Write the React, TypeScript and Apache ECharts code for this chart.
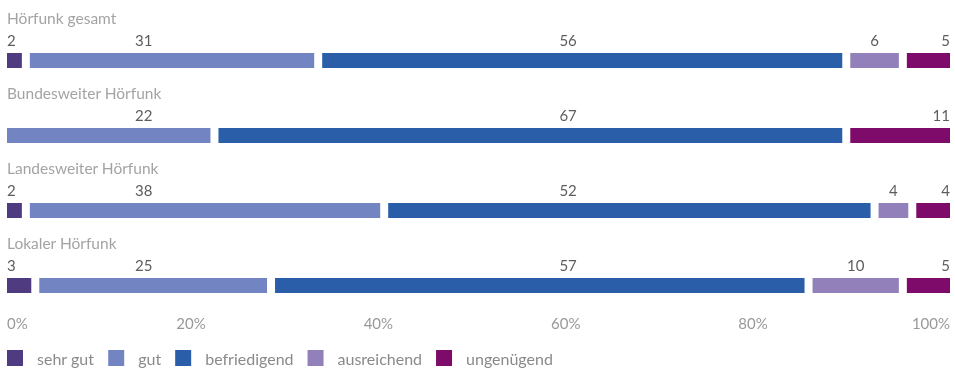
import React, { useEffect, useRef } from 'react';
import * as echarts from 'echarts';

// ---- data ----
const rows = ['Hörfunk gesamt', 'Bundesweiter Hörfunk', 'Landesweiter Hörfunk', 'Lokaler Hörfunk'];
const grades = ['sehr gut', 'gut', 'befriedigend', 'ausreichend', 'ungenügend'];
const sehrGut = [2, 0, 2, 3];
const gut = [31, 22, 38, 25];
const befriedigend = [56, 67, 52, 57];
const ausreichend = [6, 0, 4, 10];
const ungenuegend = [5, 11, 4, 5];
const midTicks = [20, 40, 60, 80];

// ---- styles / layout ----
const colors = ['#4e3b80', '#7384c3', '#2a5ea9', '#9280ba', '#7e0a69'];
const FONT = 'Lato, "Open Sans", sans-serif';
const GAP = 8;
const BAR_H = 15;
const GUT_LABEL_X = 14.5;
const BEFR_LABEL_X = 59.5;

const columns = [sehrGut, gut, befriedigend, ausreichend, ungenuegend];

export default function App() {
  const ref = useRef<HTMLDivElement>(null);

  useEffect(() => {
    if (!ref.current) return;
    const chart = echarts.init(ref.current, undefined, { renderer: 'svg' });

    // cumulative starts per row
    const starts: number[][] = columns.map(() => rows.map(() => 0));
    rows.forEach((_, r) => {
      let acc = 0;
      columns.forEach((col, c) => {
        starts[c][r] = acc;
        acc += col[r];
      });
    });

    const barSeries = columns.map((col, c) => ({
      name: grades[c],
      type: 'custom',
      xAxisIndex: 0,
      yAxisIndex: 0,
      itemStyle: { color: colors[c] },
      encode: { x: [0, 1], y: 2 },
      data: col
        .map((v, r) => ({ v, r }))
        .filter((d) => d.v > 0)
        .map((d) => [starts[c][d.r], starts[c][d.r] + d.v, d.r]),
      renderItem: (params: any, api: any) => {
        const s = api.value(0);
        const e = api.value(1);
        const row = api.value(2);
        const p0 = api.coord([s, row]);
        const p1 = api.coord([e, row]);
        const l = p0[0] + (s > 0 ? GAP / 2 : 0);
        const rr = p1[0] - (e < 100 ? GAP / 2 : 0);
        return {
          type: 'rect',
          shape: { x: l, y: p0[1] - BAR_H / 2, width: rr - l, height: BAR_H },
          style: { fill: colors[c] },
        };
      },
    }));

    const labelAlign = ['left', 'center', 'center', 'center', 'right'];
    const labelSeries = columns.map((col, c) => ({
      name: 'label-' + grades[c],
      type: 'scatter',
      xAxisIndex: 0,
      yAxisIndex: 0,
      symbolSize: 1,
      silent: true,
      itemStyle: { color: 'transparent' },
      data: col
        .map((v, r) => {
          let x = 0;
          if (c === 0) x = 0;
          else if (c === 1) x = GUT_LABEL_X;
          else if (c === 2) x = BEFR_LABEL_X;
          else if (c === 3) x = starts[c][r] + v / 2;
          else x = 100;
          return { value: [x, r], v };
        })
        .filter((d) => d.v > 0),
      label: {
        show: true,
        position: 'inside',
        offset: [0, -20.5],
        align: labelAlign[c],
        verticalAlign: 'middle',
        color: '#333333',
        fontSize: 15,
        fontFamily: FONT,
        formatter: (p: any) => String(p.data.v),
      },
    }));

    const titleSeries = {
      name: 'row-titles',
      type: 'scatter',
      xAxisIndex: 0,
      yAxisIndex: 0,
      symbolSize: 1,
      silent: true,
      itemStyle: { color: 'transparent' },
      data: rows.map((name, r) => ({ value: [0, r], name })),
      label: {
        show: true,
        position: 'inside',
        offset: [0, -43],
        align: 'left',
        verticalAlign: 'middle',
        color: '#8c8c8c',
        fontSize: 15.5,
        fontFamily: FONT,
        formatter: (p: any) => p.data.name,
      },
    };

    const axisLabelStyle = {
      color: '#999999',
      fontSize: 15,
      fontFamily: FONT,
      margin: 0,
      verticalAlign: 'middle',
      formatter: '{value}%',
    };

    chart.setOption({
      animation: false,
      textStyle: { fontFamily: FONT },
      grid: { left: 7, right: 5, top: 23, height: 300 },
      xAxis: [
        {
          type: 'value',
          min: 0,
          max: 100,
          interval: 100,
          position: 'bottom',
          axisLine: { show: false },
          axisTick: { show: false },
          splitLine: { show: false },
          axisLabel: { ...axisLabelStyle, alignMinLabel: 'left', alignMaxLabel: 'right' },
        },
        {
          type: 'value',
          min: 0.35,
          max: 101.03,
          position: 'bottom',
          axisLine: { show: false },
          axisTick: { show: false },
          splitLine: { show: false },
          axisLabel: { ...axisLabelStyle, customValues: midTicks },
        },
      ],
      yAxis: {
        type: 'category',
        data: rows,
        inverse: true,
        axisLine: { show: false },
        axisTick: { show: false },
        splitLine: { show: false },
        axisLabel: { show: false },
      },
      legend: {
        data: grades,
        left: 7,
        top: 350,
        padding: 0,
        icon: 'rect',
        itemWidth: 16,
        itemHeight: 16,
        itemGap: 14,
        selectedMode: false,
        textStyle: { color: '#8a8a8a', fontSize: 16, fontFamily: FONT, padding: [0, 0, 0, 9] },
      },
      series: [...barSeries, ...labelSeries, titleSeries],
    });

    return () => chart.dispose();
  }, []);

  return (
    <div
      ref={ref}
      style={{ position: 'fixed', left: 0, top: 0, width: 955, height: 372 }}
    />
  );
}
